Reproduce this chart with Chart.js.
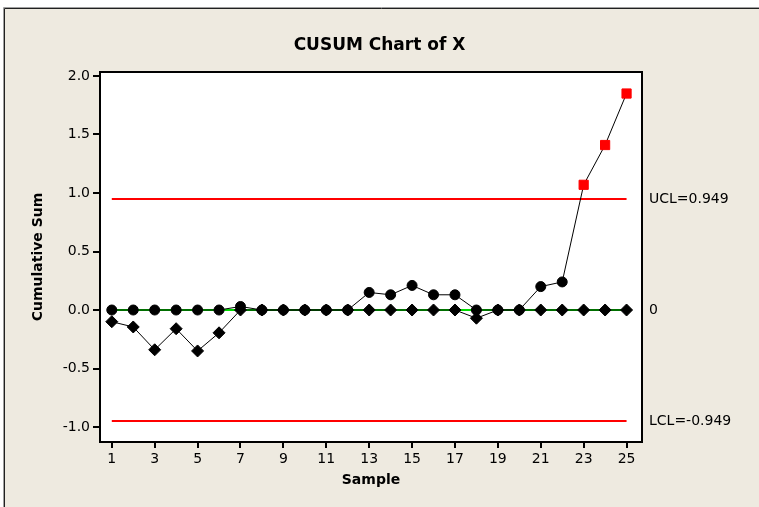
<!DOCTYPE html>
<html>
<head>
<meta charset="utf-8">
<script src="https://cdn.jsdelivr.net/npm/chart.js@4.4.1/dist/chart.umd.min.js"></script>
<style>
  html, body { margin: 0; padding: 0; background: #ffffff; }
  #wrap { position: relative; width: 759px; height: 507px; }
  canvas { display: block; }
</style>
</head>
<body>
<div id="wrap"><canvas id="cusum" width="759" height="507"></canvas></div>
<script>
// Sample numbers and the two one-sided cumulative sums
const samples = [1, 2, 3, 4, 5, 6, 7, 8, 9, 10, 11, 12, 13, 14, 15, 16, 17, 18, 19, 20, 21, 22, 23, 24, 25];
const upperCusum = [0, 0, 0, 0, 0, 0, 0.03, 0, 0, 0, 0, 0, 0.15, 0.13, 0.21, 0.13, 0.13, 0, 0, 0, 0.20, 0.24, 1.07, 1.41, 1.85];
const lowerCusum = [-0.10, -0.145, -0.34, -0.16, -0.35, -0.195, 0, 0, 0, 0, 0, 0, 0, 0, 0, 0, 0, -0.07, 0, 0, 0, 0, 0, 0, 0];

// Decision limits and centre
const ucl = 0.949;
const lcl = -0.949;
const centre = 0;

// Axis tick values
const xTicks = [1, 3, 5, 7, 9, 11, 13, 15, 17, 19, 21, 23, 25];
const yTicks = [-1.0, -0.5, 0.0, 0.5, 1.0, 1.5, 2.0];

const FONT = "'DejaVu Sans', Verdana, sans-serif";
const BEIGE = '#eeeae0';

const toPoints = (vals) => samples.map((s, i) => ({ x: s, y: vals[i] }));
const flatLine = (v) => [{ x: samples[0], y: v }, { x: samples[samples.length - 1], y: v }];

// Frame, white plot panel, plot border and limit labels
const decorations = {
  id: 'decorations',
  beforeDraw(chart) {
    const { ctx, chartArea: a, width, height } = chart;
    ctx.save();
    ctx.fillStyle = '#ffffff';
    ctx.fillRect(0, 0, width, height);
    ctx.fillStyle = BEIGE;
    ctx.fillRect(5, 9, width - 5, height - 9);
    ctx.lineWidth = 1;
    ctx.strokeStyle = '#a0a0a0';
    ctx.beginPath();
    ctx.moveTo(3.5, height); ctx.lineTo(3.5, 7.5); ctx.lineTo(width, 7.5);
    ctx.stroke();
    ctx.strokeStyle = '#202020';
    ctx.beginPath();
    ctx.moveTo(4.5, height); ctx.lineTo(4.5, 8.5); ctx.lineTo(width, 8.5);
    ctx.stroke();
    ctx.fillStyle = '#ffffff';
    ctx.fillRect(a.left, a.top, a.right - a.left, a.bottom - a.top);
    ctx.restore();
  },
  afterDraw(chart) {
    const { ctx, chartArea: a, scales } = chart;
    ctx.save();
    ctx.strokeStyle = '#000000';
    ctx.lineWidth = 2;
    ctx.strokeRect(a.left, a.top, a.right - a.left, a.bottom - a.top);
    ctx.fillStyle = '#000000';
    ctx.font = '14px ' + FONT;
    ctx.textAlign = 'left';
    ctx.textBaseline = 'middle';
    const labels = [
      { v: ucl, t: 'UCL=' + ucl.toFixed(3) },
      { v: centre, t: String(centre) },
      { v: lcl, t: 'LCL=' + lcl.toFixed(3) }
    ];
    labels.forEach(l => ctx.fillText(l.t, a.right + 7, scales.y.getPixelForValue(l.v)));
    ctx.restore();
  }
};

new Chart(document.getElementById('cusum'), {
  type: 'line',
  data: {
    datasets: [
      {
        label: 'Lower CUSUM',
        data: toPoints(lowerCusum),
        borderColor: '#000000',
        borderWidth: 1,
        pointStyle: 'rectRot',
        pointRadius: 6,
        pointBorderWidth: 1,
        pointBackgroundColor: '#000000',
        pointBorderColor: '#000000'
      },
      {
        label: 'Upper CUSUM',
        data: toPoints(upperCusum),
        borderColor: '#000000',
        borderWidth: 1,
        pointStyle: c => (c.raw && c.raw.y > ucl ? 'rect' : 'circle'),
        pointRadius: c => (c.raw && c.raw.y > ucl ? 6.5 : 5),
        pointBorderWidth: 1,
        pointBackgroundColor: c => (c.raw && c.raw.y > ucl ? '#ff0000' : '#000000'),
        pointBorderColor: c => (c.raw && c.raw.y > ucl ? '#ff0000' : '#000000')
      },
      {
        label: 'Centre',
        data: flatLine(centre),
        borderColor: '#00dd00',
        borderWidth: 2,
        pointRadius: 0
      },
      {
        label: 'UCL',
        data: flatLine(ucl),
        borderColor: '#ff0000',
        borderWidth: 2,
        pointRadius: 0
      },
      {
        label: 'LCL',
        data: flatLine(lcl),
        borderColor: '#ff0000',
        borderWidth: 2,
        pointRadius: 0
      }
    ]
  },
  options: {
    responsive: false,
    animation: false,
    events: [],
    layout: { padding: 0 },
    plugins: {
      legend: { display: false },
      tooltip: { enabled: false },
      title: {
        display: true,
        text: 'CUSUM Chart of X',
        color: '#000000',
        font: { family: FONT, size: 17, weight: 'bold', lineHeight: 1.2 },
        padding: { top: 35, bottom: 16.6 }
      }
    },
    scales: {
      x: {
        type: 'linear',
        min: 0.45,
        max: 25.72,
        afterBuildTicks: s => { s.ticks = xTicks.map(v => ({ value: v })); },
        afterFit: s => { s.height = 65; },
        ticks: {
          color: '#000000',
          font: { family: FONT, size: 14 },
          padding: 3,
          maxRotation: 0,
          autoSkip: false,
          callback: v => String(v)
        },
        grid: { drawOnChartArea: false, drawTicks: true, tickLength: 6, color: '#000000', lineWidth: 2 },
        border: { display: false },
        title: {
          display: true,
          text: 'Sample',
          color: '#000000',
          font: { family: FONT, size: 14, weight: 'bold', lineHeight: 1.2 },
          padding: { top: 0, bottom: 18.6 }
        }
      },
      y: {
        type: 'linear',
        min: -1.128,
        max: 2.034,
        afterBuildTicks: s => { s.ticks = yTicks.map(v => ({ value: v })); },
        afterFit: s => { s.width = 100; },
        ticks: {
          color: '#000000',
          font: { family: FONT, size: 14 },
          padding: 3,
          autoSkip: false,
          callback: v => Number(v).toFixed(1)
        },
        grid: { drawOnChartArea: false, drawTicks: true, tickLength: 7, color: '#000000', lineWidth: 2 },
        border: { display: false },
        title: {
          display: true,
          text: 'Cumulative Sum',
          color: '#000000',
          font: { family: FONT, size: 14, weight: 'bold', lineHeight: 1.2 },
          padding: { top: 29.6, bottom: 0 }
        }
      },
      // Empty right-hand band that holds the limit labels
      yLimits: {
        type: 'linear',
        position: 'right',
        min: 0,
        max: 1,
        afterFit: s => { s.width = 117; },
        ticks: { display: false },
        grid: { display: false },
        border: { display: false }
      }
    }
  },
  plugins: [decorations]
});
</script>
</body>
</html>
